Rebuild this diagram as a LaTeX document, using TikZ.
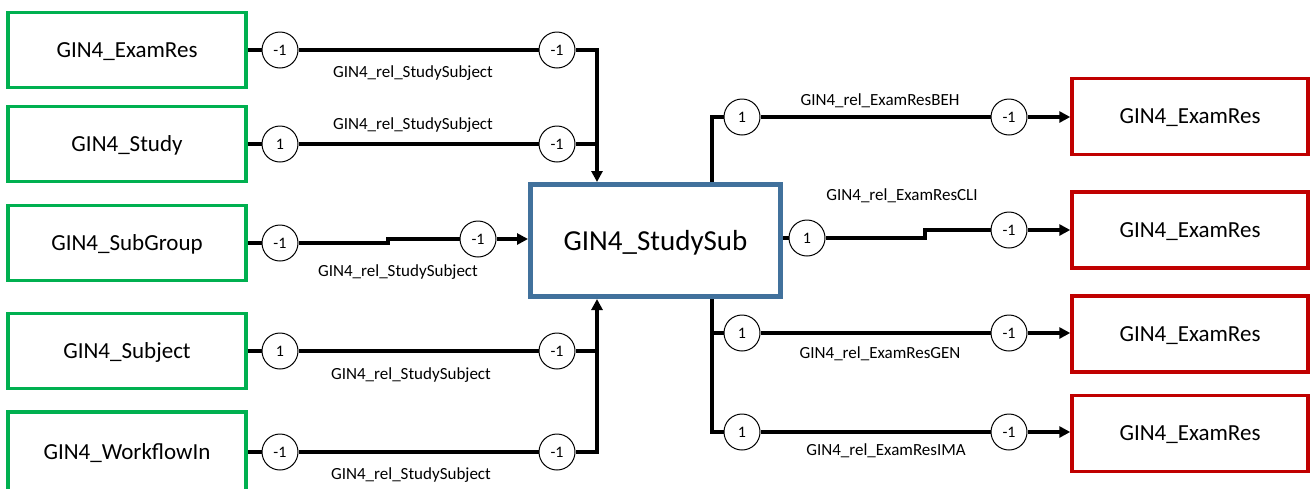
\documentclass[tikz,border=0pt]{standalone}
\usepackage{fontspec}
\setmainfont{Carlito}
\usetikzlibrary{arrows.meta}
\definecolor{gboxc}{HTML}{00B050}
\definecolor{rboxc}{HTML}{C00000}
\definecolor{bboxc}{HTML}{41719C}
\begin{document}
\begin{tikzpicture}[x=1pt,y=-1pt,
  lbox/.style={draw=gboxc,line width=3.5pt,minimum width=238pt,minimum height=75pt,inner sep=0pt,text depth=0pt,font=\fontsize{23}{27}\selectfont},
  rbox/.style={draw=rboxc,line width=3.5pt,minimum width=236pt,minimum height=76pt,inner sep=0pt,text depth=0pt,font=\fontsize{23}{27}\selectfont},
  cbox/.style={draw=bboxc,line width=5pt,minimum width=250pt,minimum height=112pt,inner sep=0pt,text depth=0pt,font=\fontsize{29}{34}\selectfont},
  card/.style={circle,draw,line width=1pt,fill=white,minimum size=36pt,inner sep=0pt,font=\fontsize{16}{19}\selectfont},
  conn/.style={line width=3.5pt},
  arr/.style={conn,-{Triangle[length=11pt,width=11pt]}},
  rel/.style={font=\fontsize{17}{20}\selectfont,inner sep=0pt}]
\useasboundingbox (0,0) rectangle (1312,488);
% left boxes
\node[lbox] (L1) at (127,50) {GIN4\_ExamRes};
\node[lbox] (L2) at (127,144) {GIN4\_Study};
\node[lbox] (L3) at (127,243) {GIN4\_SubGroup};
\node[lbox] (L4) at (127,351) {GIN4\_Subject};
\node[lbox,minimum height=80pt] (L5) at (127,452) {GIN4\_WorkflowIn};
% centre
\node[cbox] (S) at (655.5,240.5) {GIN4\_StudySub};
% right boxes
\node[rbox] (R1) at (1190,116.5) {GIN4\_ExamRes};
\node[rbox] (R2) at (1190,230) {GIN4\_ExamRes};
\node[rbox] (R3) at (1190,334) {GIN4\_ExamRes};
\node[rbox] (R4) at (1190,433.5) {GIN4\_ExamRes};
% junction coordinates
\coordinate (jx) at (597,0);
\coordinate (rx) at (712,0);
\coordinate (st) at (388,239);
\coordinate (st2) at (925,238);
% left circles
\node[card] (a1) at (280,50) {-1};
\node[card] (b1) at (557,50) {-1};
\node[card] (a2) at (280,144) {1};
\node[card] (b2) at (557,144) {-1};
\node[card] (a3) at (280,243) {-1};
\node[card] (b3) at (478,239) {-1};
\node[card] (a4) at (280,351) {1};
\node[card] (b4) at (557,351) {-1};
\node[card] (a5) at (280,452) {-1};
\node[card] (b5) at (557,452) {-1};
% right circles
\node[card] (p1) at (742,117) {1};
\node[card] (q1) at (1009,117) {-1};
\node[card] (p2) at (807,238) {1};
\node[card] (q2) at (1009,230) {-1};
\node[card] (p3) at (742,333) {1};
\node[card] (q3) at (1009,333) {-1};
\node[card] (p4) at (742,432) {1};
\node[card] (q4) at (1009,432) {-1};
% left connectors
\draw[conn] (L1) -- (a1) -- (b1);
\draw[arr] (b1) -| (S.north -| jx);
\draw[conn] (L2) -- (a2) -- (b2);
\draw[conn] (b2) -- (b2 -| jx);
\draw[conn] (L3) -- (a3);
\draw[conn] (a3) -- (a3 -| st) -- (st) -- (b3);
\draw[arr] (b3) -- (S.west |- b3);
\draw[conn] (L4) -- (a4) -- (b4);
\draw[arr] (b4) -| (S.south -| jx);
\draw[conn] (L5) -- (a5) -- (b5);
\draw[conn] (b5) -| (b4 -| jx);
% right connectors
\draw[conn] (S.north -| rx) |- (p1);
\draw[conn] (p1) -- (q1);
\draw[arr] (q1) -- (R1.west |- q1);
\draw[conn] (S.east |- p2) -- (p2);
\draw[conn] (p2) -- (st2) -- (st2 |- q2) -- (q2);
\draw[arr] (q2) -- (R2.west |- q2);
\draw[conn] (S.south -| rx) |- (p4);
\draw[conn] (p3 -| rx) -- (p3);
\draw[conn] (p3) -- (q3);
\draw[arr] (q3) -- (R3.west |- q3);
\draw[conn] (p4) -- (q4);
\draw[arr] (q4) -- (R4.west |- q4);
% labels
\node[rel] (t1) at (413,73) {GIN4\_rel\_StudySubject};
\node[rel] (t2) at (413,125) {GIN4\_rel\_StudySubject};
\node[rel] (t3) at (398,272) {GIN4\_rel\_StudySubject};
\node[rel] (t4) at (411,375) {GIN4\_rel\_StudySubject};
\node[rel] (t5) at (411,475) {GIN4\_rel\_StudySubject};
\node[rel] (u1) at (880,101) {GIN4\_rel\_ExamResBEH};
\node[rel] (u2) at (902,196) {GIN4\_rel\_ExamResCLI};
\node[rel] (u3) at (880,354) {GIN4\_rel\_ExamResGEN};
\node[rel] (u4) at (886,451) {GIN4\_rel\_ExamResIMA};
\end{tikzpicture}
\end{document}
